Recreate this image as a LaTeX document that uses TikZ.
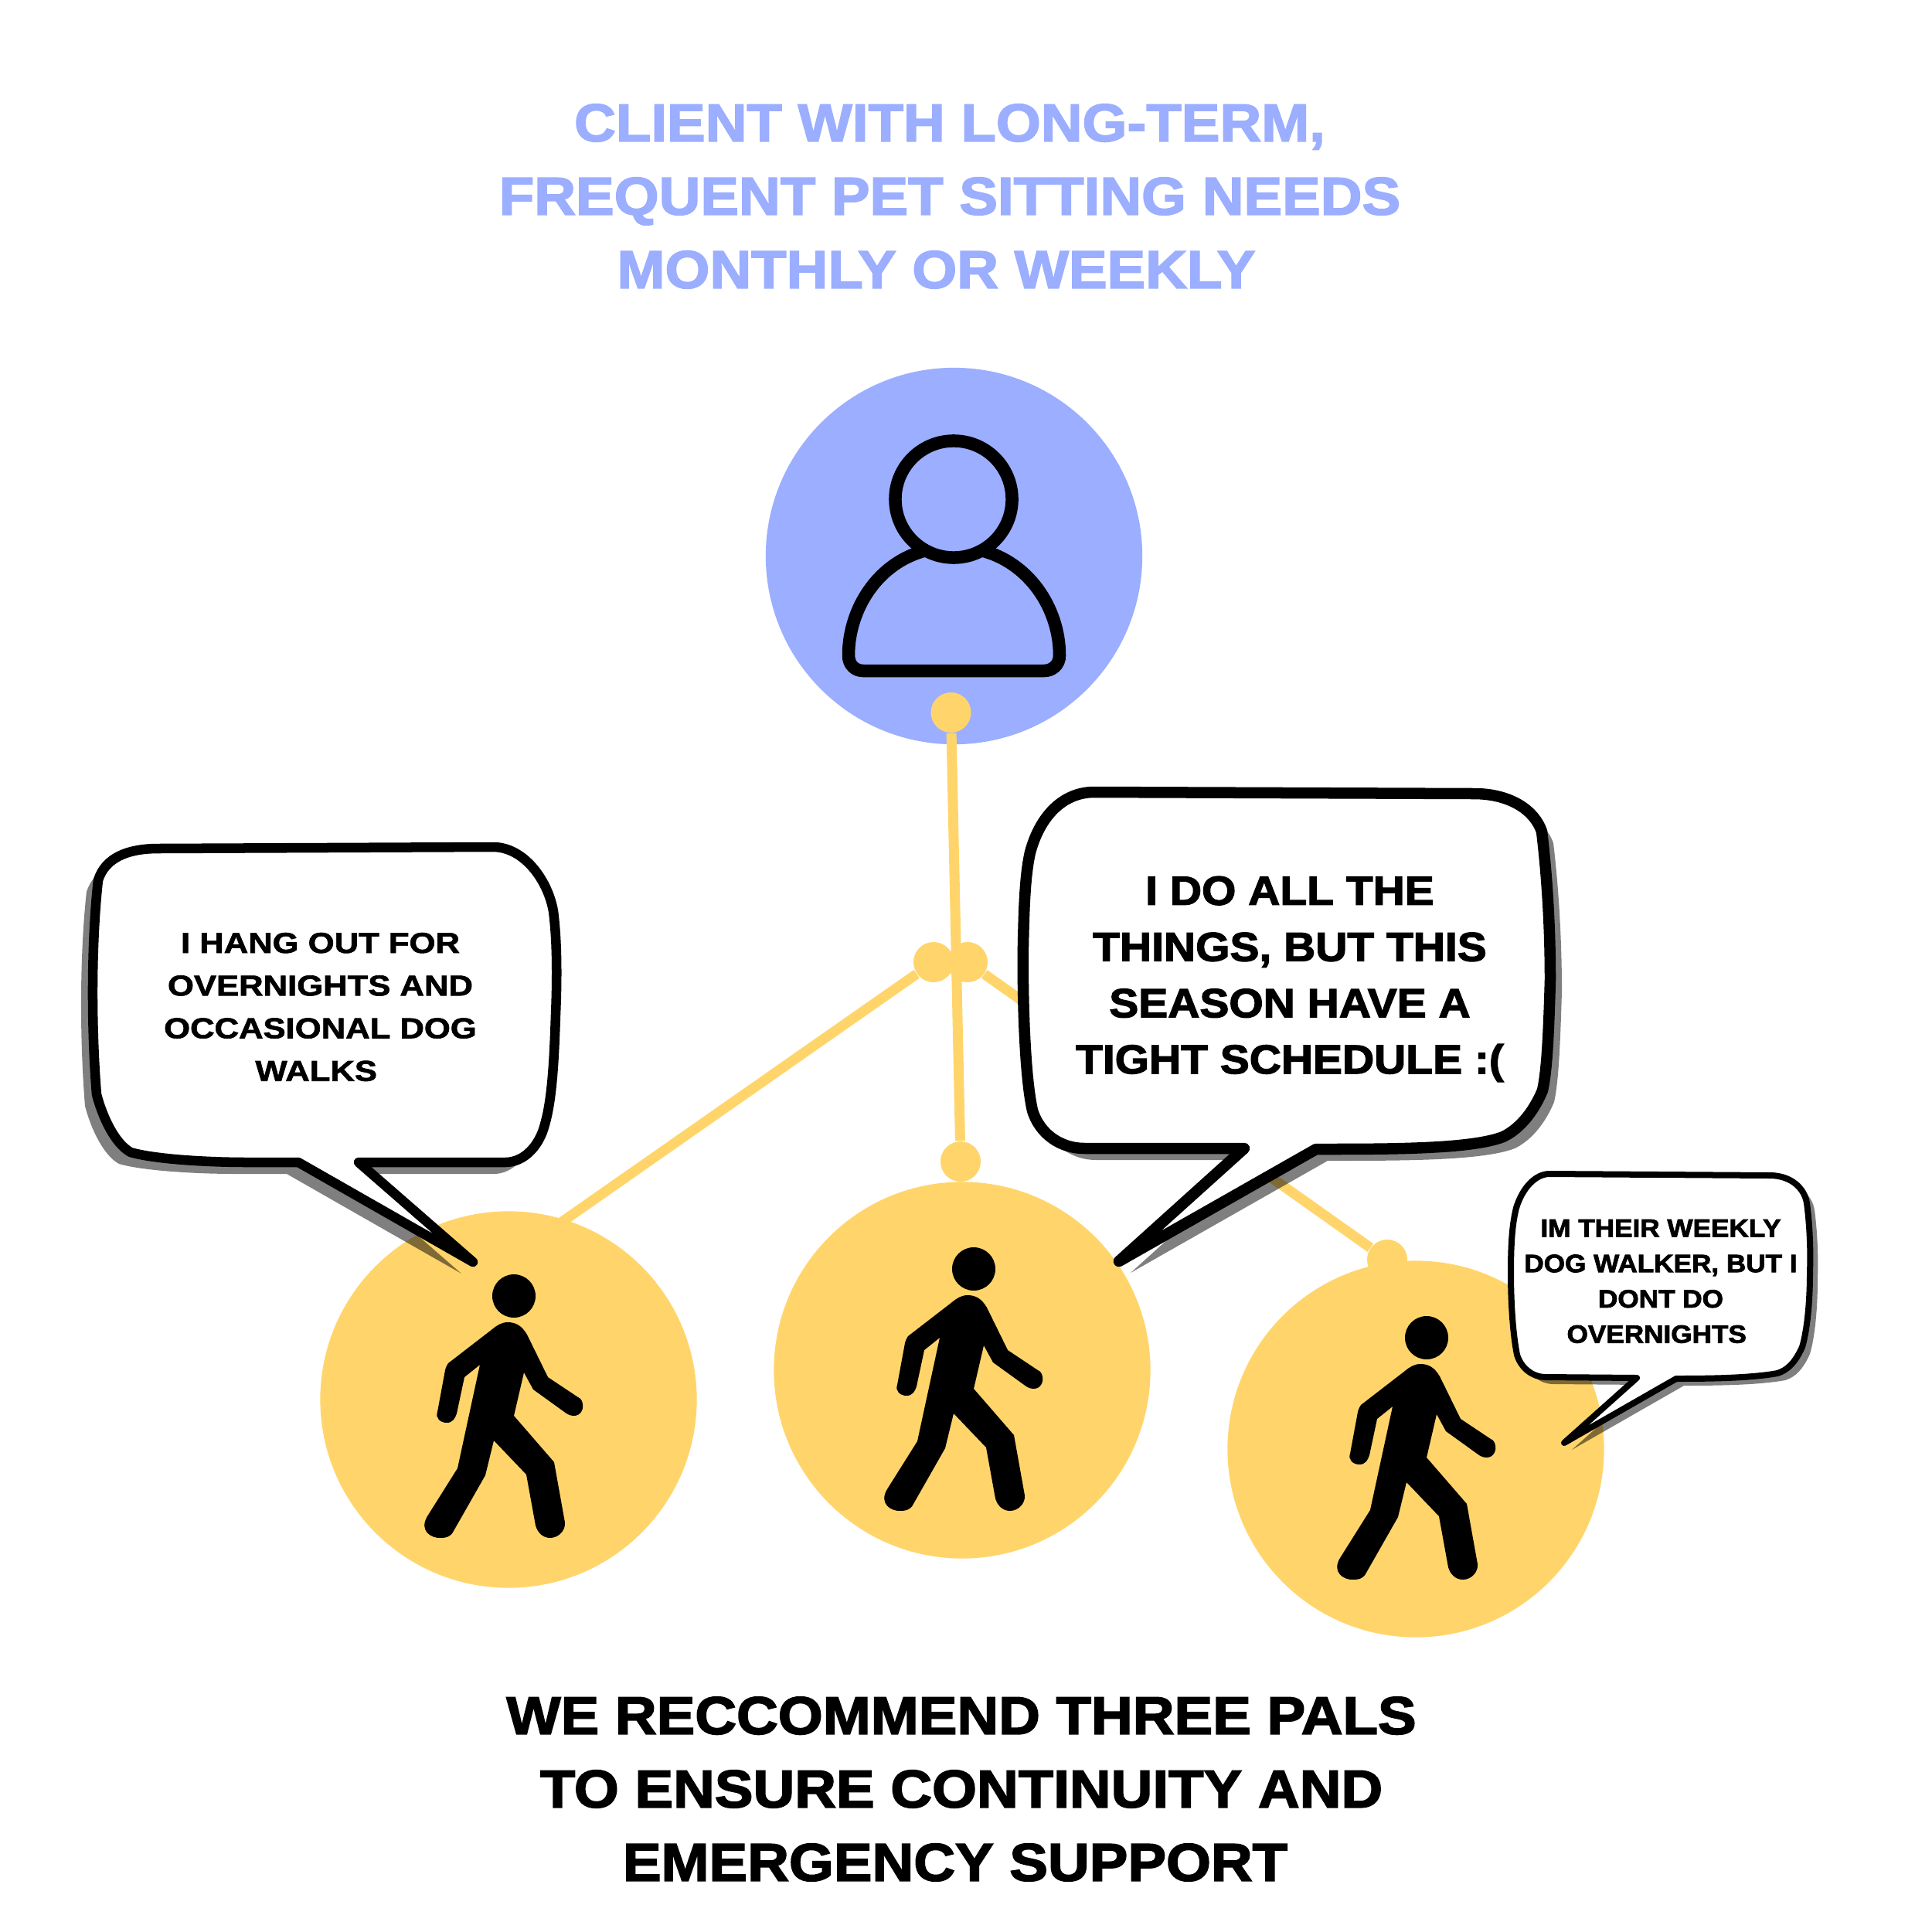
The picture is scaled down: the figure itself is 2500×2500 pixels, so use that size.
\documentclass[tikz,border=0pt]{standalone}
\usepackage{fontspec}
\newfontfamily\heavyfont[FakeStretch=1.17,FakeBold=1.8]{Liberation Sans Bold}
\newfontfamily\tightfont[FakeStretch=1.08,FakeBold=2.4]{Liberation Sans Bold}
\definecolor{clientblue}{HTML}{9BAEFF}
\definecolor{palyellow}{HTML}{FFD56B}

% bubble outlines, in pixels of the page
\newcommand{\bubbleHang}{(205,1098) -- (638,1096)
  .. controls (678,1096) and (709,1139) .. (716,1179)
  .. controls (721,1218) and (721,1266) .. (719,1313)
  .. controls (717,1376) and (714,1424) .. (705,1455)
  .. controls (698,1483) and (678,1504) .. (654,1504)
  -- (464,1504) -- (612,1633) -- (386,1504) -- (321,1504)
  .. controls (259,1504) and (196,1499) .. (169,1491)
  .. controls (147,1479) and (131,1440) .. (125,1416)
  .. controls (118,1330) and (118,1220) .. (127,1139)
  .. controls (136,1110) and (165,1098) .. cycle}
\newcommand{\bubbleTight}{(1416,1025) -- (1907,1027)
  .. controls (1955,1027) and (1986,1049) .. (1995,1076)
  .. controls (2002,1134) and (2006,1201) .. (2006,1268)
  .. controls (2004,1335) and (2002,1384) .. (1996,1411)
  .. controls (1983,1442) and (1964,1462) .. (1945,1471)
  .. controls (1904,1487) and (1801,1487) .. (1703,1487)
  -- (1448,1632) -- (1610,1486) -- (1403,1486)
  .. controls (1374,1486) and (1346,1469) .. (1336,1437)
  .. controls (1326,1393) and (1323,1290) .. (1324,1223)
  .. controls (1325,1179) and (1326,1134) .. (1333,1103)
  .. controls (1345,1058) and (1374,1025) .. cycle}
\newcommand{\bubbleWeekly}{(2005,1519) -- (2290,1521)
  .. controls (2317,1521) and (2335,1537) .. (2338,1557)
  .. controls (2342,1587) and (2343,1620) .. (2342,1647)
  .. controls (2342,1687) and (2338,1723) .. (2332,1743)
  .. controls (2323,1763) and (2313,1773) .. (2300,1777)
  .. controls (2267,1783) and (2217,1784) .. (2169,1784)
  -- (2024,1867) -- (2118,1783) -- (2000,1782)
  .. controls (1983,1782) and (1968,1770) .. (1963,1753)
  .. controls (1957,1723) and (1955,1680) .. (1955,1647)
  .. controls (1955,1607) and (1957,1583) .. (1962,1563)
  .. controls (1970,1537) and (1987,1519) .. cycle}

\begin{document}
\begin{tikzpicture}[
  x=0.01cm, y=-0.01cm,
  disc/.style={circle, inner sep=0pt, minimum size=4.87cm},
  joint/.style={circle, inner sep=0pt, minimum size=0.52cm, fill=palyellow},
  link/.style={line width=0.13cm, palyellow},
  headline/.style={font=\tightfont\fontsize{19.6}{27}\selectfont, align=center},
  speech/.style={line width=#1, line join=round, draw=black, fill=white},
  shade/.style={fill=black, opacity=0.5},
  saying/.style n args={3}{font=#1\fontsize{#2}{#3}\selectfont, align=center},
  outline/.style={line width=0.165cm, draw=black},
  walker/.pic={
    \fill[black] (0,0) circle (28);
    \fill[black] (-8,34) .. controls (-16,34) and (-22,38) .. (-28,43) -- (-85,87)
      .. controls (-87,90) and (-88,92) .. (-89,96) -- (-99,150)
      .. controls (-102,158) and (-95,164) .. (-87,164)
      .. controls (-79,164) and (-76,158) .. (-74,152) -- (-64,105) -- (-44,89)
      -- (-73,223) -- (-112,285)
      .. controls (-123,303) and (-108,314) .. (-94,313)
      .. controls (-85,313) and (-80,309) .. (-78,304) -- (-37,232) -- (-26,187)
      -- (16,231) -- (28,297)
      .. controls (31,307) and (38,313) .. (47,313)
      .. controls (58,313) and (67,303) .. (66,293) -- (52,215) -- (0,155)
      -- (13,99) -- (25,121) -- (68,152)
      .. controls (73,155) and (76,155) .. (78,155)
      .. controls (86,155) and (92,146) .. (88,136)
      .. controls (87,133) and (85,132) .. (83,131) -- (44,105) -- (17,50)
      .. controls (10,38) and (2,34) .. cycle;
  }
]
\useasboundingbox (0,0) rectangle (2500,2500);

\node (title) [headline, text=clientblue] at (1229,254)
  {CLIENT WITH LONG-TERM,\\ FREQUENT PET SITTING NEEDS\\
  MONTHLY OR WEEKLY\hspace*{10pt}};

\node (client) [disc, fill=clientblue] at (1234.5,719.5) {};
\node (clienthead) [circle, inner sep=0pt, minimum size=1.51cm, outline] at (1234,646) {};
\draw[outline] (1199,712) .. controls (1137,727) and (1098,787) .. (1098,848)
  .. controls (1098,861) and (1107,868) .. (1117,868) -- (1351,868)
  .. controls (1361,868) and (1371,861) .. (1371,848)
  .. controls (1371,787) and (1331,727) .. (1269,712);

% connectors
\node (dottop) [joint] at (1230.5,922) {};
\node (dotleft) [joint] at (1208,1245) {};
\node (dotright) [joint] at (1252,1245) {};
\node (dotmid) [joint] at (1243,1503) {};
\node (dotpal) [joint] at (1795,1630) {};
\coordinate (hidden) at (660,1628);
\draw[link] (dottop) -- (dotmid);
\draw[link] (dotleft) -- (hidden);
\draw[link] (dotright) -- (dotpal);

\node (palhang) [disc, fill=palyellow] at (658,1811) {};
\node (paltight) [disc, fill=palyellow] at (1245,1773) {};
\node (palweekly) [disc, fill=palyellow] at (1832,1875) {};
\pic (walkhang) at (665,1677) {walker};
\pic (walktight) at (1260,1642) {walker};
\pic (walkweekly) at (1846,1731) {walker};

% speech bubbles
\fill[shade, shift={(-15,15)}] \bubbleHang;
\draw[speech=0.125cm] \bubbleHang;
\fill[shade, shift={(15,15)}] \bubbleTight;
\draw[speech=0.145cm] \bubbleTight;
\fill[shade, shift={(10,9)}] \bubbleWeekly;
\draw[speech=0.08cm] \bubbleWeekly;

\node (sayhang) [saying={\heavyfont}{10.6}{15.7}] at (414.5,1303)
  {I HANG OUT FOR\\ OVERNIGHTS AND\\ OCCASIONAL DOG\\ WALKS\hspace*{3pt}};
\node (saytight) [saying={\tightfont}{15}{20.7}] at (1669,1267)
  {I DO ALL THE\\ THINGS, BUT THIS\\ SEASON HAVE A\\ TIGHT SCHEDULE :(};
\node (sayweekly) [saying={\tightfont}{9.25}{13}] at (2149,1658)
  {IM THEIR WEEKLY\\ DOG WALKER, BUT I\\ DONT DO\\ OVERNIGHTS\hspace*{3pt}};

\node (advice) [headline, text=black] at (1244,2315)
  {WE RECCOMMEND THREE PALS\\ TO ENSURE CONTINUITY AND\\
  EMERGENCY SUPPORT\hspace*{4.5pt}};
\end{tikzpicture}
\end{document}
